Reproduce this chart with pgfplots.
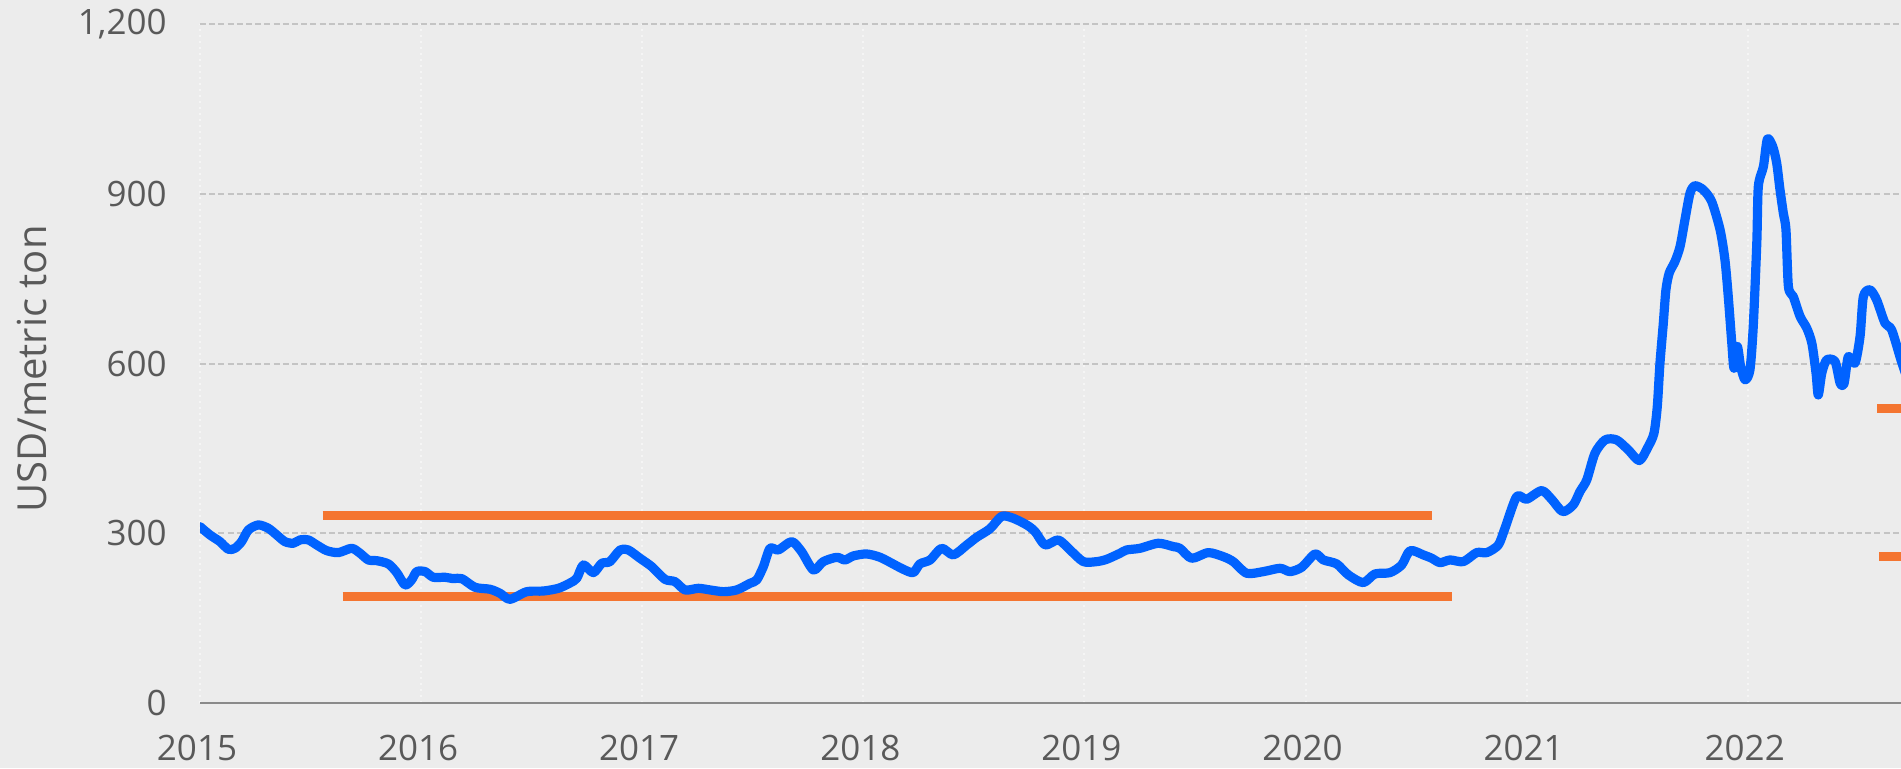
\documentclass[border=0pt]{standalone}
\usepackage{pgfplots}
\pgfplotsset{compat=1.18}
\usepackage{fontspec}
\setmainfont{Open Sans}
\newfontfamily\osans{Open Sans}
\definecolor{bg}{HTML}{ECECEC}
\definecolor{lineblue}{RGB}{0,98,255}
\definecolor{lineorange}{RGB}{244,117,48}
\definecolor{gridgray}{HTML}{C4C4C4}
\definecolor{axisgray}{HTML}{8A8A8A}
\definecolor{textgray}{HTML}{595959}
\newcommand\tickfont{\osans\fontsize{17.5}{20}\selectfont}
\newcommand\labelfont{\osans\fontsize{20}{24}\selectfont}
\begin{document}
\begin{tikzpicture}[x=1pt,y=1pt]
\fill[bg] (0,0) rectangle (950.5,384);
\useasboundingbox (0,0) rectangle (950.5,384);
\begin{axis}[
  name=ax,
  at={(100pt,32.5pt)}, anchor=south west,
  scale only axis, width=850.5pt, height=339.5pt,
  xmin=2015, xmax=2022.6933, ymin=0, ymax=1200,
  axis line style={draw=none},
  major tick length=0pt,
  ytick={0,300,600,900,1200},
  xtick={2015,2016,2017,2018,2019,2020,2021,2022},
  xticklabels={2015,2016,2017,2018,2019,2020,2021,2022},
  ymajorgrids, xmajorgrids,
  y grid style={dash pattern=on 3pt off 1.6pt, draw=gridgray, line width=1pt},
  x grid style={draw=white, dash pattern=on 1pt off 2pt, line width=1pt, opacity=0.5},
  /pgf/number format/assume math mode=true,
  /pgf/number format/1000 sep={,},
  tick label style={font=\tickfont, text=textgray},
  yticklabel style={anchor=east, inner sep=0pt, xshift=-16.5pt},
  xticklabel style={anchor=north, inner sep=0pt, yshift=-16pt, xshift=-1.5pt},
]
\addplot[lineorange, line width=4.5pt, line cap=butt] coordinates {(2015.555,330.6) (2020.571,330.6)};
\addplot[lineorange, line width=4.5pt, line cap=butt] coordinates {(2015.645,187.4) (2020.661,187.4)};
\addplot[lineorange, line width=4.5pt, line cap=butt] coordinates {(2022.586,520.7) (2023.0,520.7)};
\addplot[lineorange, line width=4.5pt, line cap=butt] coordinates {(2022.595,259.4) (2023.0,259.4)};
\addplot[lineblue, line width=4.6pt, line join=round, line cap=round, smooth, tension=0.45] coordinates {
(2015.000,311.8) (2015.045,297) (2015.090,285.3) (2015.128,271.7) (2015.158,273.4)
(2015.188,285.2) (2015.219,305.9) (2015.264,314.7) (2015.309,308.8) (2015.347,297)
(2015.384,285.2) (2015.422,282.3) (2015.452,288.2) (2015.490,288.2) (2015.528,279.3)
(2015.573,269.3) (2015.626,265.8) (2015.686,273.4) (2015.724,264.6) (2015.761,252.8)
(2015.799,251.6) (2015.852,245.8) (2015.890,230.4) (2015.927,208.6) (2015.957,217.5)
(2015.980,232.2) (2016.018,232.2) (2016.055,222.2) (2016.108,222.2) (2016.146,219.8)
(2016.184,219.8) (2016.244,204.5) (2016.312,201) (2016.357,193.9) (2016.402,183.3)
(2016.478,196.8) (2016.553,197.9) (2016.621,202.7) (2016.673,212) (2016.704,220.4)
(2016.734,244) (2016.779,230.4) (2016.817,246.9) (2016.854,249.9) (2016.900,270.5)
(2016.937,270.5) (2016.990,255.8) (2017.043,241) (2017.103,218.6) (2017.148,214.5)
(2017.194,199.8) (2017.254,202.7) (2017.307,199.8) (2017.367,196.8) (2017.427,199.8)
(2017.488,211.6) (2017.518,217.5) (2017.548,241) (2017.578,273.4) (2017.616,270.5)
(2017.676,285.2) (2017.721,267.5) (2017.774,235.1) (2017.819,249.9) (2017.880,257.5)
(2017.917,252.8) (2017.955,259.9) (2018.015,263.4) (2018.076,257.5) (2018.143,244)
(2018.181,236.3) (2018.226,230.4) (2018.256,245.8) (2018.302,252.8) (2018.354,273.4)
(2018.407,261.7) (2018.468,279.3) (2018.513,292.9) (2018.573,308) (2018.626,330)
(2018.678,326.5) (2018.739,314.7) (2018.777,302.9) (2018.822,279.3) (2018.882,288.2)
(2018.935,270.5) (2018.995,249.9) (2019.056,249.9) (2019.101,254) (2019.161,264.6)
(2019.191,270.5) (2019.251,273.4) (2019.334,282.3) (2019.402,276.4) (2019.432,273.4)
(2019.485,255.8) (2019.560,265.8) (2019.628,258.7) (2019.673,249.9) (2019.734,229.3)
(2019.809,232.2) (2019.885,238.1) (2019.930,232.2) (2019.983,239.9) (2020.043,263.4)
(2020.081,252.8) (2020.141,245.8) (2020.194,226.3) (2020.261,212.8) (2020.314,228.1)
(2020.382,230.4) (2020.435,244) (2020.473,269.3) (2020.533,261.7) (2020.571,255.8)
(2020.608,248.1) (2020.654,252.8) (2020.714,249.9) (2020.774,265.8) (2020.820,265.8)
(2020.872,279.3) (2020.902,308.8) (2020.955,364.8) (2021.000,360.1) (2021.068,375.4)
(2021.113,360.1) (2021.163,338.3) (2021.211,350.1) (2021.241,373.6) (2021.272,394.3)
(2021.309,441.4) (2021.355,465) (2021.407,465) (2021.460,447.3) (2021.510,428.4)
(2021.550,453.2) (2021.576,476.8) (2021.591,524) (2021.603,600) (2021.618,670)
(2021.630,730) (2021.645,760) (2021.671,780.3) (2021.694,806.8) (2021.716,853.9)
(2021.739,901.1) (2021.761,914.1) (2021.799,907) (2021.837,886.3) (2021.875,836.3)
(2021.897,783.2) (2021.912,718.4) (2021.928,635.9) (2021.938,591.7) (2021.953,630)
(2021.968,594.6) (2021.988,571.1) (2022.010,588.7) (2022.025,665.3) (2022.041,812.7)
(2022.048,912.9) (2022.071,948.2) (2022.089,996.6) (2022.113,983.6) (2022.131,954.2)
(2022.146,907) (2022.161,865.8) (2022.173,836.3) (2022.184,736) (2022.206,718.4)
(2022.237,683) (2022.267,662.5) (2022.290,635.9) (2022.309,582.9) (2022.319,544.5)
(2022.335,582.9) (2022.357,606.4) (2022.395,603.5) (2022.418,565.2) (2022.436,565.2)
(2022.455,612.3) (2022.485,600.5) (2022.508,647.7) (2022.523,718.4) (2022.553,730.2)
(2022.583,712.5) (2022.621,671.2) (2022.651,659.5) (2022.693,606.4) (2022.720,575)
};
\end{axis}
\draw[axisgray, line width=1.3pt] (ax.south west) -- (ax.south east);
\node[rotate=90, font=\labelfont, text=textgray, inner sep=0pt] at (16pt,199.5pt) {USD/metric ton};
\end{tikzpicture}
\end{document}
